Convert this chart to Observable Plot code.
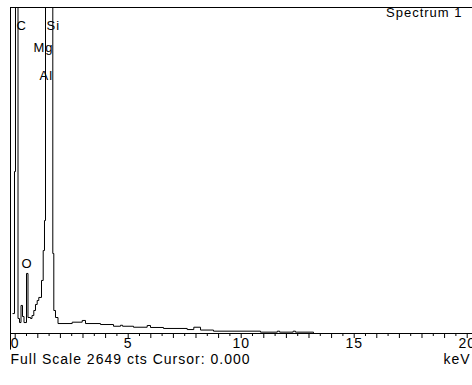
<!DOCTYPE html>
<html><head><meta charset="utf-8">
<script src="https://cdn.jsdelivr.net/npm/d3@7"></script>
<script src="https://cdn.jsdelivr.net/npm/@observablehq/plot@0.6"></script>
<style>
html,body{margin:0;padding:0;background:#fff;}
#chart svg{display:block;font-family:"Liberation Sans",Arial,sans-serif;}
#chart svg text{letter-spacing:1px;}
</style></head><body><div id="chart"></div>
<script>
// Spectrum values (bin start energy in keV, counts)
const fullScale = 2649;
const cursorValue = "0.000";
const spectrumName = "Spectrum 1";
const energyKeV = [-0.10,-0.031,0.013,0.124,0.19,0.257,0.323,0.389,0.50,0.566,0.677,0.743,0.823,0.898,0.973,1.044,1.164,1.239,1.296,1.341,1.664,1.708,1.783,1.894,2.522,2.965,3.111,3.774,4.35,4.66,4.75,5.235,5.84,5.987,6.562,7.611,7.903,8.2,8.774,10.854,11.6,11.7,12.3,12.4,13.2,20.235];
const counts    = [162,1316,3600,122,89,228,138,89,488,130,122,146,187,236,268,293,431,674,918,9000,650,187,130,81,92,106,81,73,59,67,59,51,65,49,41,32,51,28,19,11,19,11,19,11,0,0];
const elementNames = ["C","Si","Mg","Al","O"];
const elementLabelKeV = [0.06,1.385,0.81,1.075,0.28];
const elementLabelCounts = [2466,2466,2291,2056,536];
const majorTicks = d3.range(0,20.01,1);
const minorTicks = d3.range(0.5,20,1);
const tickLabels = [0,5,10,15,20];

const spectrum = energyKeV.map((e,i)=>({e, c: counts[i]}));
const elements = elementNames.map((n,i)=>({n, e: elementLabelKeV[i], c: elementLabelCounts[i]}));
const xDomain = [-0.208, 20.235];

const chart = Plot.plot({
  width: 472, height: 385,
  marginLeft: 10, marginRight: 0, marginTop: 7, marginBottom: 52,
  x: {domain: xDomain, axis: null, label: null},
  y: {domain: [0, fullScale], axis: null, label: null},
  style: {fontFamily: '"Liberation Sans", Arial, sans-serif', color: "#000", background: "#fff"},
  marks: [
    Plot.line(spectrum, {x: "e", y: "c", curve: "step-after", stroke: "#000", strokeWidth: 1, clip: true}),
    Plot.ruleY([0], {stroke: "#000"}),
    Plot.frame({anchor: "top", stroke: "#000"}),
    Plot.ruleX([xDomain[0]], {y1: -135, y2: fullScale, stroke: "#000"}),
    Plot.axisX({ticks: minorTicks, tickSize: 3, tickFormat: () => "", label: null, stroke: "#000"}),
    Plot.axisX({ticks: majorTicks, tickSize: 5, tickFormat: () => "", label: null, stroke: "#000"}),
    Plot.axisX({ticks: tickLabels, tickSize: 0, tickPadding: 5, fontSize: 14, label: null, fill: "#000"}),
    Plot.text(elements, {x: "e", y: "c", text: "n", textAnchor: "start", lineAnchor: "bottom", fontSize: 13, fill: "#000"}),
    Plot.text([spectrumName], {frameAnchor: "top-right", dx: -10, dy: 0, lineAnchor: "top", fontSize: 13, fill: "#000"}),
    Plot.text([`Full Scale ${fullScale} cts Cursor: ${cursorValue}`], {frameAnchor: "bottom-left", lineAnchor: "bottom", dy: 30, dx: 0, fontSize: 14, textAnchor: "start", fill: "#000"}),
    Plot.text(["keV"], {frameAnchor: "bottom-right", lineAnchor: "bottom", dy: 30, dx: -2, fontSize: 14, textAnchor: "end", fill: "#000"})
  ]
});
document.getElementById("chart").appendChild(chart);
</script></body></html>
